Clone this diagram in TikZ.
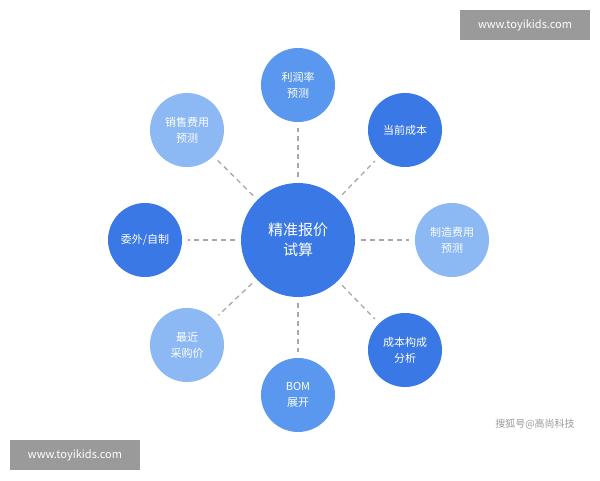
\documentclass[tikz,border=0pt]{standalone}
\usepackage{fontspec}
\setmainfont{Noto Sans CJK SC}
\definecolor{cdark}{HTML}{3A78E6}
\definecolor{cmid}{HTML}{5A98F0}
\definecolor{clight}{HTML}{8CB8F4}
\definecolor{cline}{HTML}{A8A8A8}
\definecolor{cmark}{HTML}{9A9A9A}
\tikzset{
  hub/.style={circle, fill=cdark, minimum size=114pt, inner sep=0pt, text=white, font=\fontsize{15}{20}\selectfont, align=center},
  sat/.style={circle, minimum size=74pt, inner sep=0pt, text=white, font=\fontsize{11}{16}\selectfont, align=center},
  link/.style={cline, line width=1.3pt, dash pattern=on 5pt off 4pt, shorten <=6pt, shorten >=6pt},
  wmark/.style={fill=cmark, text=white, font=\fontsize{11}{13}\selectfont, minimum width=130pt, minimum height=30pt, inner sep=0pt}
}
\begin{document}
\begin{tikzpicture}[x=1pt,y=1pt]
  \useasboundingbox[fill=white] (0,0) rectangle (600,480);
  \node[hub] (hub) at (298,240) {精准报价\\试算};
  \node[sat, fill=cmid] (profit) at (298,395) {利润率\\预测};
  \node[sat, fill=cdark] (cost) at (405,350) {当前成本};
  \node[sat, fill=clight] (manuf) at (452,240) {制造费用\\预测};
  \node[sat, fill=cdark] (struct) at (405,130) {成本构成\\分析};
  \node[sat, fill=cmid] (bom) at (298,85) {BOM\\展开};
  \node[sat, fill=clight] (price) at (187,135) {最近\\采购价};
  \node[sat, fill=cdark] (make) at (145,240) {委外/自制};
  \node[sat, fill=clight] (sales) at (187,350) {销售费用\\预测};
  \foreach \s in {profit,cost,manuf,struct,bom,price,make,sales}
    \draw[link] (hub) -- (\s);
  % watermarks
  \node[wmark] (top) at (525,455) {www.toyikids.com};
  \node[wmark] (bot) at (75,25) {www.toyikids.com};
  \node[text=cmark, font=\fontsize{10}{12}\selectfont] (src) at (535,56) {搜狐号@高尚科技};
\end{tikzpicture}
\end{document}
